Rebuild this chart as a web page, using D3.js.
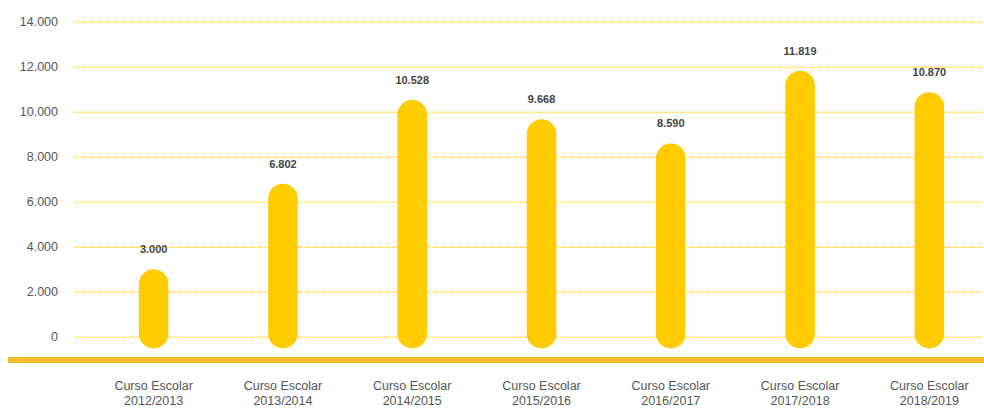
<!DOCTYPE html>
<html>
<head>
<meta charset="utf-8">
<script src="https://cdn.jsdelivr.net/npm/d3@7"></script>
<style>
    body { margin: 0; background: #fff; }
    text { font-family: 'Liberation Sans', Arial, sans-serif; }
</style>
</head>
<body>
<div class="chart-container"></div>
<script>
// data
const cursos = ['2012/2013', '2013/2014', '2014/2015', '2015/2016', '2016/2017', '2017/2018', '2018/2019'];
const alumnos = [3000, 6802, 10528, 9668, 8590, 11819, 10870];
const yTicks = [0, 2000, 4000, 6000, 8000, 10000, 12000, 14000];

const width = 984;
const height = 408;

// es-ES style thousands separator
const fmtLabel = d3.formatLocale({ decimal: ',', thousands: '.', grouping: [3], currency: ['', '€'] }).format(',d');

// scales
const xScale = d3.scalePoint()
    .domain(cursos)
    .range([89, 994])
    .padding(0.5);

const yScale = d3.scaleLinear()
    .domain([0, 14000])
    .range([336.7, 21.7]);

const svg = d3.select('.chart-container')
    .append('svg')
    .attr('width', width)
    .attr('height', height);

// grid + y axis
const yAxis = d3.axisLeft(yScale)
    .tickValues(yTicks)
    .tickFormat(fmtLabel)
    .tickSizeInner(-(width - 74))
    .tickSizeOuter(0)
    .tickPadding(16);

const yAxisDraw = svg.append('g')
    .attr('class', 'y axis')
    .attr('transform', 'translate(74, 0)')
    .call(yAxis);

yAxisDraw.select('.domain').remove();
yAxisDraw.selectAll('line')
    .attr('stroke', '#f2bd2c')
    .attr('stroke-dasharray', '1,1')
    .attr('stroke-width', 1);
yAxisDraw.selectAll('text')
    .attr('fill', '#555')
    .attr('font-size', 12.5);

// bars (rounded pills, extend a bit below zero)
const barW = 29.5;
svg.append('g')
    .attr('class', 'bars')
    .selectAll('rect')
    .data(cursos)
    .enter()
    .append('rect')
        .attr('x', d => xScale(d) - barW / 2)
        .attr('y', (d, i) => yScale(alumnos[i]))
        .attr('width', barW)
        .attr('height', (d, i) => yScale(0) - yScale(alumnos[i]) + 11.7)
        .attr('rx', barW / 2)
        .attr('fill', '#ffcc00');

// value labels
svg.append('g')
    .selectAll('text')
    .data(cursos)
    .enter()
    .append('text')
        .attr('x', d => xScale(d))
        .attr('y', (d, i) => yScale(alumnos[i]) - 16)
        .attr('text-anchor', 'middle')
        .attr('font-size', 11)
        .attr('font-weight', 'bold')
        .attr('fill', '#444')
        .text((d, i) => fmtLabel(alumnos[i]));

// thick bottom band
svg.append('rect')
    .attr('x', 8)
    .attr('y', 357)
    .attr('width', width - 8)
    .attr('height', 6)
    .attr('fill', '#f2bd2c');

// category labels
const cats = svg.append('g')
    .selectAll('text')
    .data(cursos)
    .enter()
    .append('text')
        .attr('x', d => xScale(d))
        .attr('y', 390)
        .attr('text-anchor', 'middle')
        .attr('font-size', 12.5)
        .attr('fill', '#555');

cats.append('tspan').text('Curso Escolar');
cats.append('tspan')
    .attr('x', d => xScale(d))
    .attr('dy', 15)
    .text(d => d);
</script>
</body>
</html>
